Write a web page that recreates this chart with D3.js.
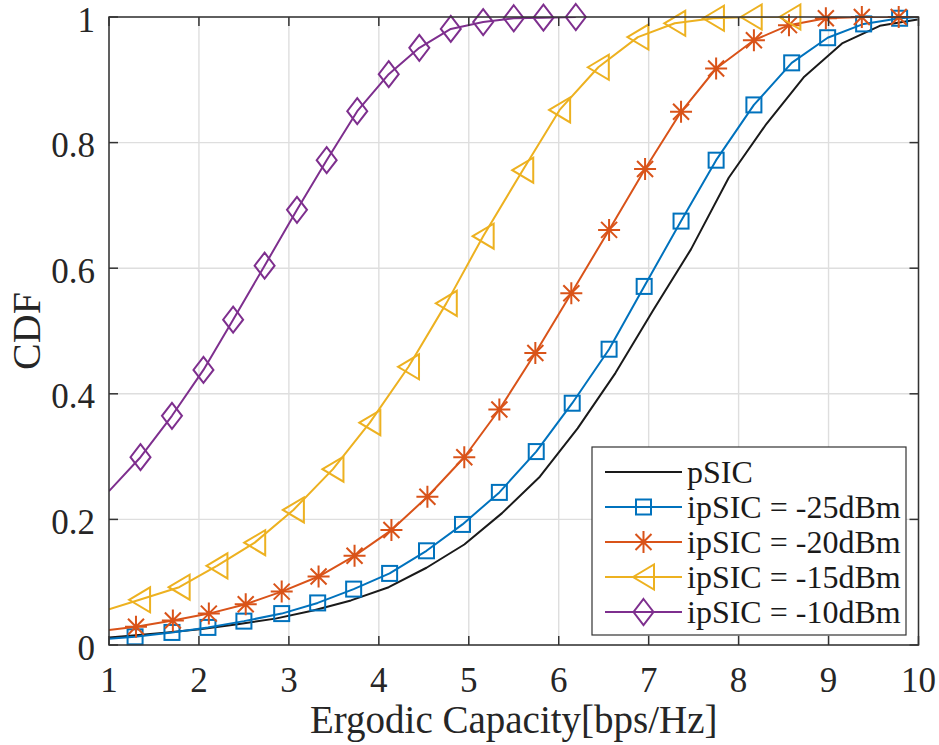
<!DOCTYPE html>
<html>
<head>
<meta charset="utf-8">
<script src="https://cdn.jsdelivr.net/npm/d3@7"></script>
<style>
  html, body { margin: 0; padding: 0; background: #fff; }
  svg { display: block; }
</style>
</head>
<body>
<svg id="chart" width="939" height="745"></svg>
<script>
// Axis ticks
const capacityTicks = [1, 2, 3, 4, 5, 6, 7, 8, 9, 10];
const cdfTicks = [0, 0.2, 0.4, 0.6, 0.8, 1];
const cdfTickLabels = ["0", "0.2", "0.4", "0.6", "0.8", "1"];

// pSIC (no markers)
const psicX = [1.0, 1.17, 1.59, 2.01, 2.43, 2.85, 3.27, 3.69, 4.11, 4.53, 4.95, 5.37, 5.79, 6.21, 6.63, 7.05, 7.47, 7.89, 8.31, 8.73, 9.15, 9.57, 9.99];
const psicY = [0.012, 0.014, 0.019, 0.025, 0.033, 0.042, 0.055, 0.071, 0.092, 0.123, 0.160, 0.210, 0.268, 0.345, 0.433, 0.533, 0.630, 0.744, 0.830, 0.905, 0.958, 0.986, 0.996];

// ipSIC = -25 dBm
const ip25X = [1.0, 1.29, 1.70, 2.10, 2.50, 2.92, 3.32, 3.72, 4.12, 4.53, 4.93, 5.34, 5.75, 6.15, 6.56, 6.95, 7.36, 7.75, 8.17, 8.59, 8.99, 9.39, 9.79, 10.0];
const ip25Y = [0.010, 0.013, 0.020, 0.028, 0.038, 0.050, 0.067, 0.089, 0.114, 0.150, 0.192, 0.243, 0.308, 0.385, 0.471, 0.571, 0.675, 0.772, 0.860, 0.927, 0.967, 0.989, 0.998, 1.0];

// ipSIC = -20 dBm
const ip20X = [1.0, 1.30, 1.71, 2.11, 2.52, 2.92, 3.33, 3.73, 4.14, 4.54, 4.95, 5.34, 5.74, 6.14, 6.56, 6.96, 7.36, 7.75, 8.17, 8.56, 8.97, 9.37, 9.78, 10.0];
const ip20Y = [0.024, 0.029, 0.039, 0.050, 0.065, 0.085, 0.109, 0.142, 0.183, 0.236, 0.299, 0.375, 0.465, 0.560, 0.661, 0.758, 0.849, 0.918, 0.963, 0.987, 0.998, 1.0, 1.0, 1.0];

// ipSIC = -15 dBm
const ip15X = [1.0, 1.34, 1.78, 2.20, 2.62, 3.05, 3.49, 3.90, 4.33, 4.75, 5.16, 5.60, 6.01, 6.44, 6.88, 7.29, 7.72, 8.14, 8.57];
const ip15Y = [0.057, 0.072, 0.092, 0.126, 0.163, 0.215, 0.280, 0.354, 0.443, 0.544, 0.651, 0.756, 0.852, 0.920, 0.968, 0.990, 0.998, 1.0, 1.0];

// ipSIC = -10 dBm
const ip10X = [1.0, 1.35, 1.70, 2.05, 2.38, 2.73, 3.09, 3.42, 3.76, 4.11, 4.45, 4.80, 5.16, 5.50, 5.83, 6.19];
const ip10Y = [0.245, 0.299, 0.365, 0.438, 0.518, 0.604, 0.693, 0.772, 0.850, 0.909, 0.951, 0.981, 0.992, 0.998, 0.999, 1.0];

const seriesNames = ["pSIC", "ipSIC = -25dBm", "ipSIC = -20dBm", "ipSIC = -15dBm", "ipSIC = -10dBm"];
const seriesColors = ["#1a1a1a", "#0072BD", "#D95319", "#EDB120", "#7E2F8E"];
const seriesMarkers = ["none", "square", "asterisk", "triangleLeft", "diamond"];
const seriesX = [psicX, ip25X, ip20X, ip15X, ip10X];
const seriesY = [psicY, ip25Y, ip20Y, ip15Y, ip10Y];

const FONT = "'Liberation Serif', 'Times New Roman', Times, 'DejaVu Serif', serif";
const TEXT_COLOR = "#262626";

const svg = d3.select("#chart");
const plot = { left: 109, right: 918.5, top: 17, bottom: 645 };

const x = d3.scaleLinear().domain([1, 10]).range([plot.left, plot.right]);
const y = d3.scaleLinear().domain([0, 1]).range([plot.bottom, plot.top]);

svg.append("defs").append("clipPath").attr("id", "plotClip")
  .append("rect")
  .attr("x", plot.left).attr("y", plot.top)
  .attr("width", plot.right - plot.left).attr("height", plot.bottom - plot.top);

// grid
const grid = svg.append("g");
grid.selectAll("line.gx").data(capacityTicks).join("line")
  .attr("x1", d => x(d)).attr("x2", d => x(d))
  .attr("y1", plot.top).attr("y2", plot.bottom)
  .attr("stroke", "#dedede").attr("stroke-width", 1.4);
grid.selectAll("line.gy").data(cdfTicks).join("line")
  .attr("x1", plot.left).attr("x2", plot.right)
  .attr("y1", d => y(d)).attr("y2", d => y(d))
  .attr("stroke", "#dedede").attr("stroke-width", 1.4);

// marker shapes
function drawMarker(g, type, color) {
  const sw = 2;
  if (type === "square") {
    g.append("rect").attr("x", -7.5).attr("y", -7.5).attr("width", 15).attr("height", 15)
      .attr("fill", "none").attr("stroke", color).attr("stroke-width", sw);
  } else if (type === "asterisk") {
    const r = 11, d = 8;
    const p = `M0,${-r}L0,${r}M${-r},0L${r},0M${-d},${-d}L${d},${d}M${-d},${d}L${d},${-d}`;
    g.append("path").attr("d", p).attr("fill", "none").attr("stroke", color).attr("stroke-width", sw);
  } else if (type === "triangleLeft") {
    const w = 10.5, h = 12.5;
    g.append("path").attr("d", `M${-w},0L${w},${-h}L${w},${h}Z`)
      .attr("fill", "none").attr("stroke", color).attr("stroke-width", sw).attr("stroke-linejoin", "miter");
  } else if (type === "diamond") {
    const w = 10, h = 13;
    g.append("path").attr("d", `M0,${-h}L${w},0L0,${h}L${-w},0Z`)
      .attr("fill", "none").attr("stroke", color).attr("stroke-width", sw);
  }
}

const line = d3.line().x(d => x(d[0])).y(d => y(d[1]));

seriesNames.forEach((name, i) => {
  const pts = seriesX[i].map((v, k) => [v, seriesY[i][k]]);
  const g = svg.append("g");
  g.append("path").datum(pts)
    .attr("d", line)
    .attr("clip-path", "url(#plotClip)")
    .attr("fill", "none")
    .attr("stroke", seriesColors[i])
    .attr("stroke-width", 2)
    .attr("stroke-linejoin", "round");
  if (seriesMarkers[i] !== "none") {
    pts.filter(p => p[0] > 1 && p[0] < 10).forEach(p => {
      const mg = g.append("g").attr("transform", `translate(${x(p[0])},${y(p[1])})`);
      drawMarker(mg, seriesMarkers[i], seriesColors[i]);
    });
  }
});

// axes box and inward ticks on all sides
const axisColor = "#333";
const tickLen = 9;
const frame = svg.append("g");
frame.append("rect")
  .attr("x", plot.left).attr("y", plot.top)
  .attr("width", plot.right - plot.left).attr("height", plot.bottom - plot.top)
  .attr("fill", "none").attr("stroke", axisColor).attr("stroke-width", 1.5);
capacityTicks.forEach(t => {
  frame.append("line").attr("x1", x(t)).attr("x2", x(t)).attr("y1", plot.bottom).attr("y2", plot.bottom - tickLen)
    .attr("stroke", axisColor).attr("stroke-width", 1.5);
  frame.append("line").attr("x1", x(t)).attr("x2", x(t)).attr("y1", plot.top).attr("y2", plot.top + tickLen)
    .attr("stroke", axisColor).attr("stroke-width", 1.5);
});
cdfTicks.forEach(t => {
  frame.append("line").attr("x1", plot.left).attr("x2", plot.left + tickLen).attr("y1", y(t)).attr("y2", y(t))
    .attr("stroke", axisColor).attr("stroke-width", 1.5);
  frame.append("line").attr("x1", plot.right).attr("x2", plot.right - tickLen).attr("y1", y(t)).attr("y2", y(t))
    .attr("stroke", axisColor).attr("stroke-width", 1.5);
});

// tick labels
svg.append("g").selectAll("text").data(capacityTicks).join("text")
  .attr("x", d => x(d)).attr("y", 692)
  .attr("text-anchor", "middle").attr("font-size", 35)
  .attr("font-family", FONT).attr("fill", TEXT_COLOR)
  .text(d => d);
svg.append("g").selectAll("text").data(cdfTicks).join("text")
  .attr("x", 95).attr("y", d => y(d) + 14.5)
  .attr("text-anchor", "end").attr("font-size", 35)
  .attr("font-family", FONT).attr("fill", TEXT_COLOR)
  .text((d, i) => cdfTickLabels[i]);

// axis titles
svg.append("text")
  .attr("x", (plot.left + plot.right) / 2).attr("y", 733)
  .attr("text-anchor", "middle").attr("font-size", 39)
  .attr("font-family", FONT).attr("fill", TEXT_COLOR)
  .text("Ergodic Capacity[bps/Hz]");
svg.append("text")
  .attr("transform", `translate(40,${(plot.top + plot.bottom) / 2}) rotate(-90)`)
  .attr("text-anchor", "middle").attr("font-size", 40)
  .attr("font-family", FONT).attr("fill", TEXT_COLOR)
  .text("CDF");

// legend
const legend = svg.append("g");
legend.append("rect")
  .attr("x", 592).attr("y", 447).attr("width", 314).attr("height", 188)
  .attr("fill", "#fff").attr("stroke", "#333").attr("stroke-width", 1.2);
seriesNames.forEach((name, i) => {
  const ly = 472 + i * 35;
  legend.append("line").attr("x1", 605).attr("x2", 682).attr("y1", ly).attr("y2", ly)
    .attr("stroke", seriesColors[i]).attr("stroke-width", 2);
  if (seriesMarkers[i] !== "none") {
    const mg = legend.append("g").attr("transform", `translate(643.5,${ly})`);
    drawMarker(mg, seriesMarkers[i], seriesColors[i]);
  }
  legend.append("text").attr("x", 687).attr("y", ly + 11)
    .attr("font-size", 32).attr("font-family", FONT).attr("fill", "#1a1a1a")
    .text(name);
});
</script>
</body>
</html>
